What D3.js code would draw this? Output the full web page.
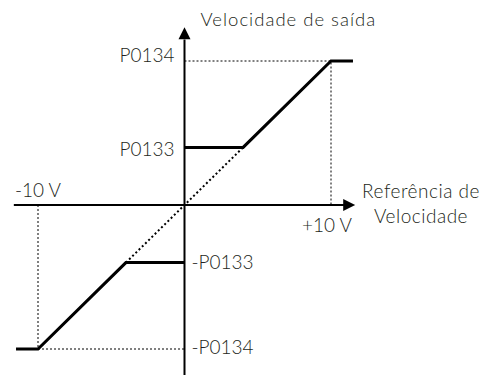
<!DOCTYPE html>
<html>
<head>
<meta charset="utf-8">
<script src="https://cdn.jsdelivr.net/npm/d3@7"></script>
<style>
  html, body { margin: 0; padding: 0; background: #fff; }
  svg text { font-family: Lato, "DejaVu Sans", sans-serif; font-weight: 300; fill: #231f20; }
</style>
</head>
<body>
<div id="chart"></div>
<script>
// DATA
// reference voltage (V) vs output speed (in units of P0134)
const posCurve = [[0, 0.4], [4, 0.4], [10, 1], [11.5, 1]];
const negCurve = [[-11.5, -1], [-10, -1], [-4, -0.4], [0, -0.4]];
const linearRef = [[-4, -0.4], [4, 0.4]];
const yLevels = [1, 0.4, -0.4, -1];
const yLabels = ['P0134', 'P0133', '-P0133', '-P0134'];
const xTicks = [-10, 10];
const xLabels = ['-10 V', '+10 V'];
const xTitle = ['Referência de', 'Velocidade'];
const yTitle = 'Velocidade de saída';

const width = 484, height = 378;

const svg = d3.select('#chart').append('svg')
    .attr('width', width)
    .attr('height', height);

// SCALES
const x = d3.scaleLinear().domain([-10, 10]).range([38, 331]);
const y = d3.scaleLinear().domain([-1, 1]).range([349, 61]);

const line = d3.line().x(d => x(d[0])).y(d => y(d[1]));

///////////////////////////////////////////////////////
// dotted guides
///////////////////////////////////////////////////////
const guides = svg.append('g')
    .attr('stroke', '#000')
    .attr('stroke-width', 1)
    .attr('stroke-dasharray', '2,2')
    .attr('fill', 'none');

// +10 V / P0134
guides.append('path').attr('d', line([[0, 1], [10, 1], [10, 0]]));
// -10 V / -P0134
guides.append('path').attr('d', line([[-10, 0], [-10, -1], [0, -1]]));

// linear reference through origin
svg.append('path')
    .attr('d', line(linearRef))
    .attr('fill', 'none')
    .attr('stroke', '#000')
    .attr('stroke-width', 2)
    .attr('stroke-dasharray', '2,2.5');

///////////////////////////////////////////////////////
// axes with arrows
///////////////////////////////////////////////////////
const axes = svg.append('g').attr('stroke', '#000').attr('stroke-width', 2);

axes.append('line')
    .attr('x1', x(-11.65)).attr('x2', x(11.1))
    .attr('y1', y(0)).attr('y2', y(0));
axes.append('line')
    .attr('x1', x(0)).attr('x2', x(0))
    .attr('y1', y(-1.18)).attr('y2', y(1.15));

svg.append('path')
    .attr('d', `M${x(11.65)},${y(0)} l-12,-6 l0,12 z`)
    .attr('fill', '#000');
svg.append('path')
    .attr('d', `M${x(0)},${y(1.235)} l-6,12 l12,0 z`)
    .attr('fill', '#000');

///////////////////////////////////////////////////////
// speed curve
///////////////////////////////////////////////////////
[posCurve, negCurve].forEach(c => {
    svg.append('path')
        .attr('d', line(c))
        .attr('fill', 'none')
        .attr('stroke', '#000')
        .attr('stroke-width', 3)
        .attr('stroke-linejoin', 'miter');
});

///////////////////////////////////////////////////////
// labels
///////////////////////////////////////////////////////
const labelDy = [1, 9, 6, 5];
svg.selectAll('.y-label')
    .data(yLevels)
    .enter()
    .append('text')
    .attr('class', 'y-label')
    .attr('font-size', 19)
    .attr('text-anchor', d => d > 0 ? 'end' : 'start')
    .attr('x', d => d > 0 ? x(0) - 10 : x(0) + 7)
    .attr('y', (d, i) => y(d) + labelDy[i])
    .text((d, i) => yLabels[i]);

svg.selectAll('.x-label')
    .data(xTicks)
    .enter()
    .append('text')
    .attr('class', 'x-label')
    .attr('font-size', 19)
    .attr('text-anchor', d => d < 0 ? 'middle' : 'end')
    .attr('x', d => d < 0 ? x(d) : x(d) + 21)
    .attr('y', d => d < 0 ? y(0) - 8 : y(0) + 27)
    .text((d, i) => xLabels[i]);

svg.append('text')
    .attr('font-size', 18.5)
    .attr('letter-spacing', 1)
    .attr('x', x(0) + 16)
    .attr('y', 26)
    .text(yTitle);

svg.selectAll('.x-title')
    .data(xTitle)
    .enter()
    .append('text')
    .attr('class', 'x-title')
    .attr('font-size', 19)
    .attr('letter-spacing', 0.5)
    .attr('text-anchor', 'middle')
    .attr('x', 421)
    .attr('y', (d, i) => y(0) - 7 + i * 25)
    .text(d => d);
</script>
</body>
</html>
